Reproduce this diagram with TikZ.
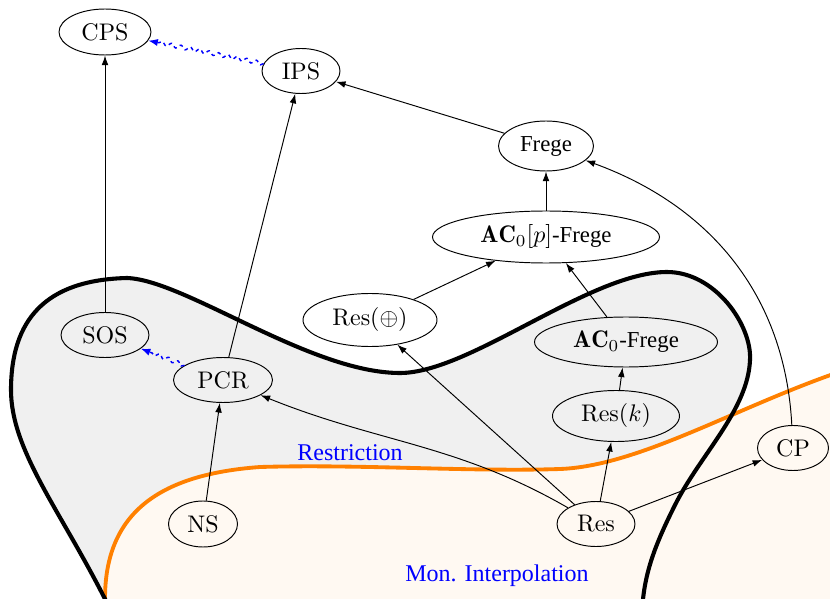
\documentclass[tikz,border=0pt]{standalone}
\usepackage{fontspec}
\newfontfamily\lib{Liberation Serif}
\usetikzlibrary{arrows.meta,shapes.geometric,decorations.pathmorphing}
\begin{document}
\begin{tikzpicture}[x=0.4167pt,y=0.4167pt,
 nd/.style={draw,ellipse,inner sep=0pt,line width=0.4pt,font=\fontsize{10}{12}\selectfont},
 arr/.style={-{Latex[length=4pt,width=2.8pt]},line width=0.4pt},
 snk/.style={blue,line width=0.6pt,dash pattern=on 1.5pt off 1.5pt,-{Latex[length=4pt,width=3pt]},decorate,decoration={snake,amplitude=0.8pt,segment length=4pt,post length=4pt}},
 lbl/.style={blue,font=\lib\fontsize{10}{12}\selectfont},
 blobline/.style={black,line width=1.7pt},
 oline/.style={orange,line width=1.6pt}]
\useasboundingbox (0,0) rectangle (830,-599);
\begin{scope}
\clip (0,0) rectangle (830,-599);
\fill[black!6] (113,-615) -- (105,-599) .. controls (60,-510) and (11,-450) .. (11,-390)
  .. controls (11,-320) and (45,-280) .. (127,-278)
  .. controls (185,-280) and (310,-373) .. (400,-373)
  .. controls (470,-373) and (590,-272) .. (667,-272)
  .. controls (715,-272) and (752,-325) .. (750,-360)
  .. controls (748,-410) and (700,-455) .. (675,-505)
  .. controls (655,-545) and (643,-575) .. (642,-615) -- cycle;
\fill[orange!5] (103,-615) -- (105,-599) .. controls (105,-520) and (150,-475) .. (260,-467)
  .. controls (360,-464) and (470,-472) .. (560,-469)
  .. controls (640,-466) and (740,-405) .. (845,-370) -- (845,-615) -- cycle;
\draw[oline] (103,-615) -- (105,-599) .. controls (105,-520) and (150,-475) .. (260,-467)
  .. controls (360,-464) and (470,-472) .. (560,-469)
  .. controls (640,-466) and (740,-405) .. (845,-370);
\draw[blobline] (113,-615) -- (105,-599) .. controls (60,-510) and (11,-450) .. (11,-390)
  .. controls (11,-320) and (45,-280) .. (127,-278)
  .. controls (185,-280) and (310,-373) .. (400,-373)
  .. controls (470,-373) and (590,-272) .. (667,-272)
  .. controls (715,-272) and (752,-325) .. (750,-360)
  .. controls (748,-410) and (700,-455) .. (675,-505)
  .. controls (655,-545) and (643,-575) .. (642,-615);
\end{scope}
% nodes
\node[nd,minimum width=92*0.4167pt,minimum height=46*0.4167pt] (CPS) at (105,-32) {CPS};
\node[nd,minimum width=78*0.4167pt,minimum height=45*0.4167pt] (IPS) at (301,-71) {IPS};
\node[nd,minimum width=95*0.4167pt,minimum height=50*0.4167pt] (Frege) at (546,-146) {\lib\fontsize{9.5}{12}\selectfont Frege};
\node[nd,minimum width=227*0.4167pt,minimum height=52*0.4167pt] (ACp) at (546,-237) {$\mathbf{AC}_0[p]${\lib\fontsize{9.5}{12}\selectfont -Frege}};
\node[nd,minimum width=134*0.4167pt,minimum height=53*0.4167pt] (Resx) at (370,-320) {Res($\oplus$)};
\node[nd,minimum width=183*0.4167pt,minimum height=50*0.4167pt] (ACF) at (626,-342) {$\mathbf{AC}_0${\lib\fontsize{9.5}{12}\selectfont -Frege}};
\node[nd,minimum width=127*0.4167pt,minimum height=51*0.4167pt] (Resk) at (616,-416) {Res($k$)};
\node[nd,minimum width=71*0.4167pt,minimum height=45*0.4167pt] (CP) at (793,-448) {CP};
\node[nd,minimum width=78*0.4167pt,minimum height=45*0.4167pt] (Res) at (596,-524) {Res};
\node[nd,minimum width=88*0.4167pt,minimum height=45*0.4167pt] (SOS) at (105,-335) {SOS};
\node[nd,minimum width=99*0.4167pt,minimum height=45*0.4167pt] (PCR) at (223,-380) {PCR};
\node[nd,minimum width=69*0.4167pt,minimum height=46*0.4167pt] (NS) at (203,-524) {NS};
\node[lbl] (restr) at (350,-453) {Restriction};
\node[lbl] (monint) at (497,-576) {Mon. Interpolation};
% edges
\draw[arr] (SOS) -- (CPS);
\draw[snk] (IPS) -- (CPS);
\draw[arr] (PCR) -- (IPS);
\draw[arr] (Frege) -- (IPS);
\draw[arr] (ACp) -- (Frege);
\draw[arr] (CP) to[out=93,in=-20] (Frege);
\draw[arr] (Resx) -- (ACp);
\draw[arr] (ACF) -- (ACp);
\draw[arr] (Resk) -- (ACF);
\draw[arr] (Res) -- (Resk);
\draw[arr] (Res) -- (Resx);
\draw[arr] (Res) to[out=150,in=-22] (PCR);
\draw[arr] (Res) -- (CP);
\draw[arr] (NS) -- (PCR);
\draw[snk] (PCR) -- (SOS);
\end{tikzpicture}
\end{document}
